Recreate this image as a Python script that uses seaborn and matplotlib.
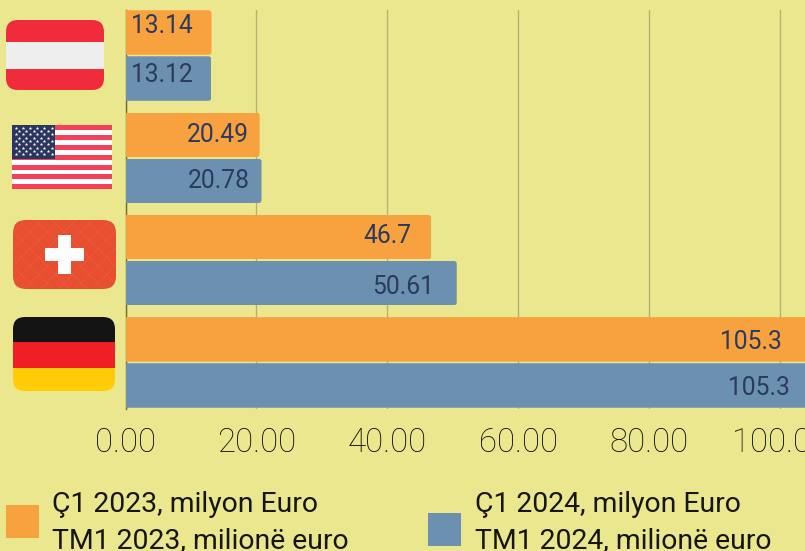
import pandas as pd
import seaborn as sns
import matplotlib.pyplot as plt
from matplotlib.patches import FancyBboxPatch, Rectangle

countries = ['Austria', 'SHBA', 'Zvicra', 'Gjermania']
q1_2023 = [13.14, 20.49, 46.7, 105.3]
q1_2024 = [13.12, 20.78, 50.61, 105.3]
series_names = ['Ç1 2023, milyon Euro\nTM1 2023, milionë euro', 'Ç1 2024, milyon Euro\nTM1 2024, milionë euro']
x_ticks = [0, 20, 40, 60, 80, 100]

BG = '#EBE78F'
ORANGE = '#F7A13F'
BLUE = '#6C90AF'
LABEL_COL = '#2B3A5E'

# label shifts in pixels from the end of the bar, same order as the bars
label_dx = [-18.5, -10.5, -20, -33, -18.5, -12, -23, -25]
label_dy = [7, 0, 1, -3, 4, 0, -4, -3]

plt.rcParams['font.family'] = ['Roboto', 'DejaVu Sans']
W, H = 805, 551
fig = plt.figure(figsize=(W / 100, H / 100), dpi=100, facecolor=BG)
ax = fig.add_axes([125.5 / W, 1 - 408.5 / H, 1 - 125.5 / W, 398.5 / H], facecolor=BG)

data = pd.DataFrame({
    'country': countries * 2,
    'value': q1_2023 + q1_2024,
    'series': [series_names[0]] * 4 + [series_names[1]] * 4,
})
sns.barplot(data=data, x='value', y='country', hue='series', order=countries, orient='y',
            palette=[ORANGE, BLUE], saturation=1, width=0.9, gap=0.033, legend=False, ax=ax, zorder=3)

px_x = 6.545
px_y = 102.3
ax.set_xlim(0, (W - 125.5) / px_x)
ax.set_ylim(3.45, -0.445)
ax.set_xlabel('')
ax.set_ylabel('')
ax.set_yticks([])
ax.set_xticks(x_ticks)
ax.set_xticklabels(['%.2f' % t for t in x_ticks], fontsize=23.8, fontweight='light', color='#0c0c06')
ax.tick_params(axis='x', length=0, pad=13)
ax.grid(axis='x', color='#B4B173', lw=1, zorder=0)
ax.set_axisbelow(True)
for s in ['top', 'right', 'bottom']:
    ax.spines[s].set_visible(False)
ax.spines['left'].set_color('#6F6B33')
ax.spines['left'].set_linewidth(1)

# rounded bar corners and value labels
bars = list(ax.patches)
values = q1_2023 + q1_2024
for bar, val, dx, dy in zip(bars, values, label_dx, label_dy):
    x0, y0, w, h = bar.get_x(), bar.get_y(), bar.get_width(), bar.get_height()
    r = 3 / px_x
    clip = FancyBboxPatch((x0 - 2, y0), w + 2, h, boxstyle='round,pad=0,rounding_size=%f' % r,
                          mutation_aspect=px_x / px_y, transform=ax.transData)
    bar.set_clip_path(clip)
    ax.annotate(str(val), (val, y0 + h / 2), xytext=(dx * 0.72, dy * 0.72), textcoords='offset points',
                ha='right', va='center', fontsize=17.7, color=LABEL_COL, zorder=5, annotation_clip=False)

# overlay in pixel coordinates for flags and legend
ov = fig.add_axes([0, 0, 1, 1], facecolor='none')
ov.set_xlim(0, W)
ov.set_ylim(H, 0)
ov.axis('off')


def flag(x0, y0, x1, y1, radius, rects):
    box = FancyBboxPatch((x0, y0), x1 - x0, y1 - y0, boxstyle='round,pad=0,rounding_size=%f' % radius,
                         fc='none', ec='none', transform=ov.transData)
    ov.add_patch(box)
    for rx0, ry0, rx1, ry1, col in rects:
        p = Rectangle((rx0, ry0), rx1 - rx0, ry1 - ry0, fc=col, ec='none')
        ov.add_patch(p)
        p.set_clip_path(box)
    return box


# Austria
flag(6, 20, 104, 90, 12, [(6, 20, 104, 42, '#F02B3C'), (6, 42, 104, 68.5, '#EEEEEE'), (6, 68.5, 104, 90, '#F02B3C')])

# USA
stripe = (189.3 - 125) / 13
for i in range(13):
    col = '#F5405A' if i % 2 == 0 else '#FFFFFF'
    ov.add_patch(Rectangle((12, 125 + i * stripe), 100, stripe, fc=col, ec='none'))
ov.add_patch(Rectangle((12, 125), 42.7, 7 * stripe - 0.3, fc='#2A3560', ec='none', zorder=2))
sx, sy = [], []
for r in range(9):
    n = 6 if r % 2 == 0 else 5
    for c in range(n):
        sx.append(15.5 + c * 7.2 + (3.6 if r % 2 else 0))
        sy.append(127.8 + r * 3.3)
ov.scatter(sx, sy, marker='*', s=7, color='white', linewidths=0, zorder=3)

# Switzerland
swiss = flag(13, 220, 116, 289, 13, [(13, 220, 116, 289, '#E84E30')])
for k in range(-8, 12):
    for sign in (1, -1):
        xs = [13 + k * 17, 13 + k * 17 + sign * 80]
        ln, = ov.plot(xs, [215, 295], color='#EE7355', lw=0.5, alpha=0.4)
        ln.set_clip_path(swiss)
ov.add_patch(Rectangle((58, 235), 13, 39, fc='white', ec='none', zorder=3))
ov.add_patch(Rectangle((45, 247.7), 39, 13.3, fc='white', ec='none', zorder=3))

# Germany
flag(13, 317, 115, 391, 12, [(13, 317, 115, 342.3, '#141414'), (13, 342.3, 115, 368, '#F01F26'), (13, 368, 115, 391, '#FFCC05')])

# legend
ov.add_patch(Rectangle((6, 505), 33, 33, fc=ORANGE, ec='none'))
ov.add_patch(Rectangle((428, 513), 33, 33, fc=BLUE, ec='none'))
for x, name in zip([52, 475], series_names):
    line1, line2 = name.split('\n')
    ov.text(x, 512, line1, fontsize=20.4, color='#15150c', va='baseline')
    ov.text(x, 548, line2, fontsize=20.4, color='#15150c', va='baseline')

fig.savefig('out.png', dpi=100, facecolor=BG)
